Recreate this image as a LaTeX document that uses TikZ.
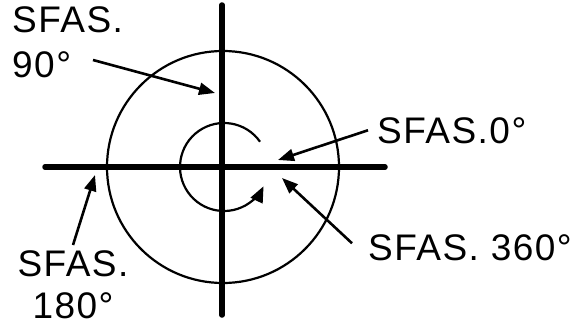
\documentclass[tikz,border=0pt]{standalone}
\usepackage{fontspec}
\setmainfont{Liberation Sans}[LetterSpace=4]
\usetikzlibrary{arrows.meta}
\tikzset{
  axis/.style={line width=5.5pt,line cap=round},
  ring/.style={line width=2.2pt},
  pointer/.style={line width=2.6pt,-{Triangle[length=16pt,width=12pt]}},
  tag/.style={inner sep=0pt,font=\fontsize{37}{45}\selectfont},
}
\begin{document}
\begin{tikzpicture}[x=1pt,y=-1pt]
    \useasboundingbox (0,0) rectangle (575,329);
    % cross
    \draw[axis] (222,5) -- (222,315);
    \draw[axis] (45,167) -- (385,167);
    % outer circle and turning arc
    \draw[ring] (223,167) circle [radius=116];
    \draw[ring,-{Triangle[length=16pt,width=13pt]}] (224,167) ++(-35:44)
        arc [start angle=-35,end angle=-334,radius=44];
    % labels
    \node[tag,align=left,anchor=north west] (lbl90) at (12,6) {SFAS.\\90°};
    \node[tag,anchor=base west] (lbl0) at (377,143) {SFAS.0°};
    \node[tag,anchor=base west] (lbl360) at (368,260) {SFAS. 360°};
    \node[tag,align=center,anchor=north,font=\fontsize{37}{42}\selectfont] (lbl180) at (73,250) {SFAS.\\180°};
    % pointers
    \coordinate (tail90) at (93,60);
    \coordinate (tip90) at (215,93);
    \coordinate (tip0) at (278,160);
    \coordinate (tip360) at (282,178);
    \coordinate (tip180) at (95,175);
    \draw[pointer] (tail90) -- (tip90);
    \draw[pointer] ([xshift=-9pt]lbl0.west) -- (tip0);
    \draw[pointer] ([xshift=-16pt,yshift=4pt]lbl360.west) -- (tip360);
    \draw[pointer] ([yshift=5pt]lbl180.north) -- (tip180);
\end{tikzpicture}
\end{document}
